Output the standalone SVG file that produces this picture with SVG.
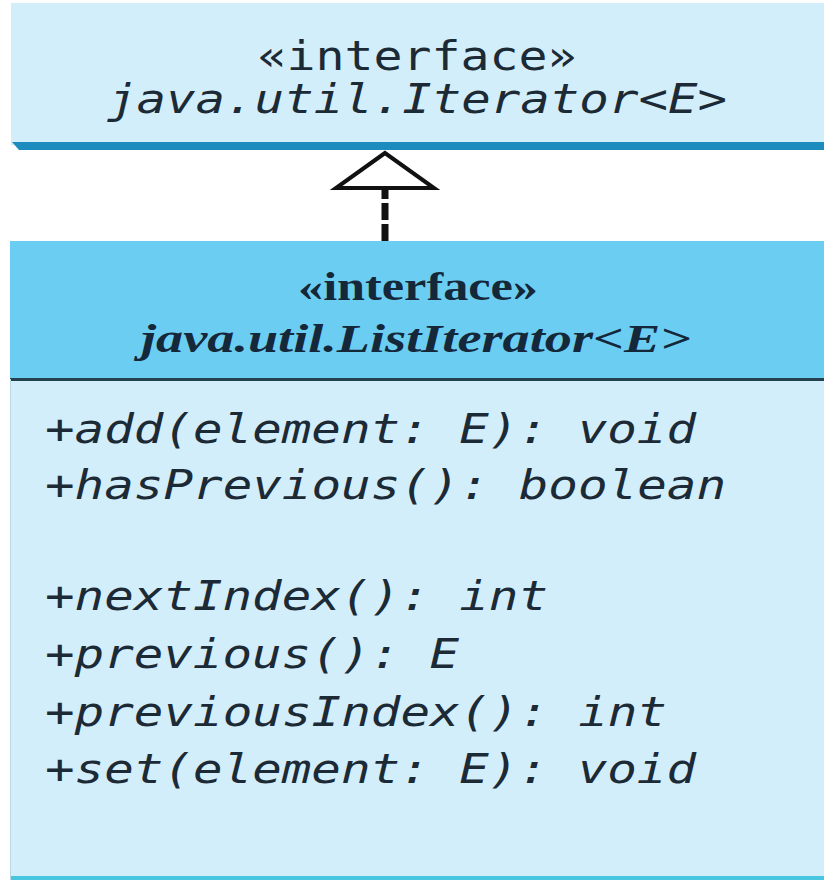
<svg xmlns="http://www.w3.org/2000/svg" width="824" height="880" viewBox="0 0 824 880">
  <style>
    .mono { font-family: "DejaVu Sans Mono", "Liberation Mono", monospace; font-size: 40px; fill: #1c2a36; }
    .it { font-style: italic; }
    .serif { font-family: "Liberation Serif", "Times New Roman", serif; font-weight: bold; fill: #14283a; }
    .pale { fill: #d3eefb; }
  </style>
  <rect width="824" height="880" fill="#ffffff"/>

  <!-- Iterator interface -->
  <g id="iterator">
    <rect class="pale" x="11" y="3" width="813" height="142"/>
    <polygon points="12,142 824,142 824,150 19,150" fill="#1c8bbd"/>
    <text class="mono" x="417" y="70" text-anchor="middle" textLength="319" lengthAdjust="spacingAndGlyphs">«interface»</text>
    <text class="mono it" x="417" y="113" text-anchor="middle" textLength="620" lengthAdjust="spacingAndGlyphs">java.util.Iterator&lt;E&gt;</text>
  </g>

  <!-- ListIterator interface -->
  <g id="listiterator">
    <rect x="10" y="241" width="814" height="138" fill="#6ccdf3"/>
    <rect class="pale" x="10" y="379" width="814" height="501"/>
    <line x1="10" y1="379.5" x2="824" y2="379.5" stroke="#24414f" stroke-width="3"/>
    <line x1="10" y1="878" x2="824" y2="878" stroke="#48c6e0" stroke-width="4"/>
    <line x1="10.5" y1="379" x2="10.5" y2="880" stroke="#bcd8e4" stroke-width="1"/>
    <text class="serif" x="418" y="300" text-anchor="middle" font-size="40" textLength="240" lengthAdjust="spacingAndGlyphs">«interface»</text>
    <text class="serif it" x="416" y="352" text-anchor="middle" font-size="40" textLength="550" lengthAdjust="spacingAndGlyphs">java.util.ListIterator&lt;E&gt;</text>
    <text class="mono it" x="45" y="443" textLength="651" lengthAdjust="spacingAndGlyphs">+add(element: E): void</text>
    <text class="mono it" x="45" y="499" textLength="681" lengthAdjust="spacingAndGlyphs">+hasPrevious(): boolean</text>
    <text class="mono it" x="45" y="610" textLength="503" lengthAdjust="spacingAndGlyphs">+nextIndex(): int</text>
    <text class="mono it" x="45" y="668" textLength="414" lengthAdjust="spacingAndGlyphs">+previous(): E</text>
    <text class="mono it" x="45" y="726" textLength="622" lengthAdjust="spacingAndGlyphs">+previousIndex(): int</text>
    <text class="mono it" x="45" y="783" textLength="651" lengthAdjust="spacingAndGlyphs">+set(element: E): void</text>
  </g>

  <!-- realization: ListIterator extends Iterator -->
  <g id="connectors">
    <line x1="385" y1="241" x2="385" y2="188" stroke="#111111" stroke-width="7" stroke-dasharray="17 4"/>
    <polygon points="385,153 336,188 434,188" fill="#ffffff" stroke="#111111" stroke-width="4" stroke-linejoin="miter"/>
  </g>
</svg>
